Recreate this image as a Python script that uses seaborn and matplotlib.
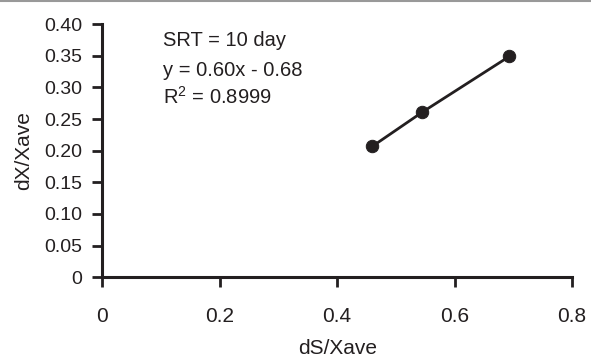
import numpy as np
import pandas as pd
import seaborn as sns
import matplotlib.pyplot as plt

# values
ds_xave = [0.460, 0.545, 0.693]
dx_xave = [0.207, 0.261, 0.349]
x_ticks = [0, 0.2, 0.4, 0.6, 0.8]
x_ticklabels = ["0", "0.2", "0.4", "0.6", "0.8"]
y_ticks = [0, 0.05, 0.10, 0.15, 0.20, 0.25, 0.30, 0.35, 0.40]
y_ticklabels = ["0", "0.05", "0.10", "0.15", "0.20", "0.25", "0.30", "0.35", "0.40"]
notes = ["SRT = 10 day", "y = 0.60x - 0.68", "R$^2$ = 0.8999"]
note_y = [0.365, 0.318, 0.2735]

data = pd.DataFrame({"dS/Xave": ds_xave, "dX/Xave": dx_xave})

sns.set_style("white")
plt.rcParams["font.family"] = ["Liberation Sans", "DejaVu Sans"]
plt.rcParams["mathtext.fontset"] = "custom"
plt.rcParams["mathtext.rm"] = "Liberation Sans"

fig = plt.figure(figsize=(5.91, 3.61), dpi=100)
ax = fig.add_axes([0.173, 0.232, 0.795, 0.701])

ink = "#231f20"
sns.lineplot(data=data, x="dS/Xave", y="dX/Xave", ax=ax, color=ink, lw=2)
sns.scatterplot(data=data, x="dS/Xave", y="dX/Xave", ax=ax, color=ink,
                s=80, edgecolor=ink, zorder=3)

ax.set_xlim(0, 0.8)
ax.set_ylim(0, 0.40)
ax.set_xticks(x_ticks, x_ticklabels)
ax.set_yticks(y_ticks, y_ticklabels)
ax.tick_params(axis="both", bottom=True, left=True, direction="out", length=7.5,
               width=2, color=ink, labelcolor=ink)
ax.tick_params(axis="x", pad=14, labelsize=15)
ax.tick_params(axis="y", pad=7, labelsize=14)

sns.despine(ax=ax)
for side in ["left", "bottom"]:
    ax.spines[side].set_linewidth(2.2)
    ax.spines[side].set_color(ink)

ax.set_xlabel("dS/Xave", fontsize=15, color=ink, labelpad=9)
ax.set_ylabel("dX/Xave", fontsize=15, color=ink, labelpad=8)

for t, yy in zip(notes, note_y):
    ax.text(0.104, yy, t, fontsize=14.5, color=ink, va="baseline", ha="left")

# thin gray rule along the top edge of the picture
fig.add_artist(plt.Line2D([0, 1], [0.997, 0.997], color="#999999", lw=1.5,
                          transform=fig.transFigure))

fig.savefig("out.png", dpi=100)
